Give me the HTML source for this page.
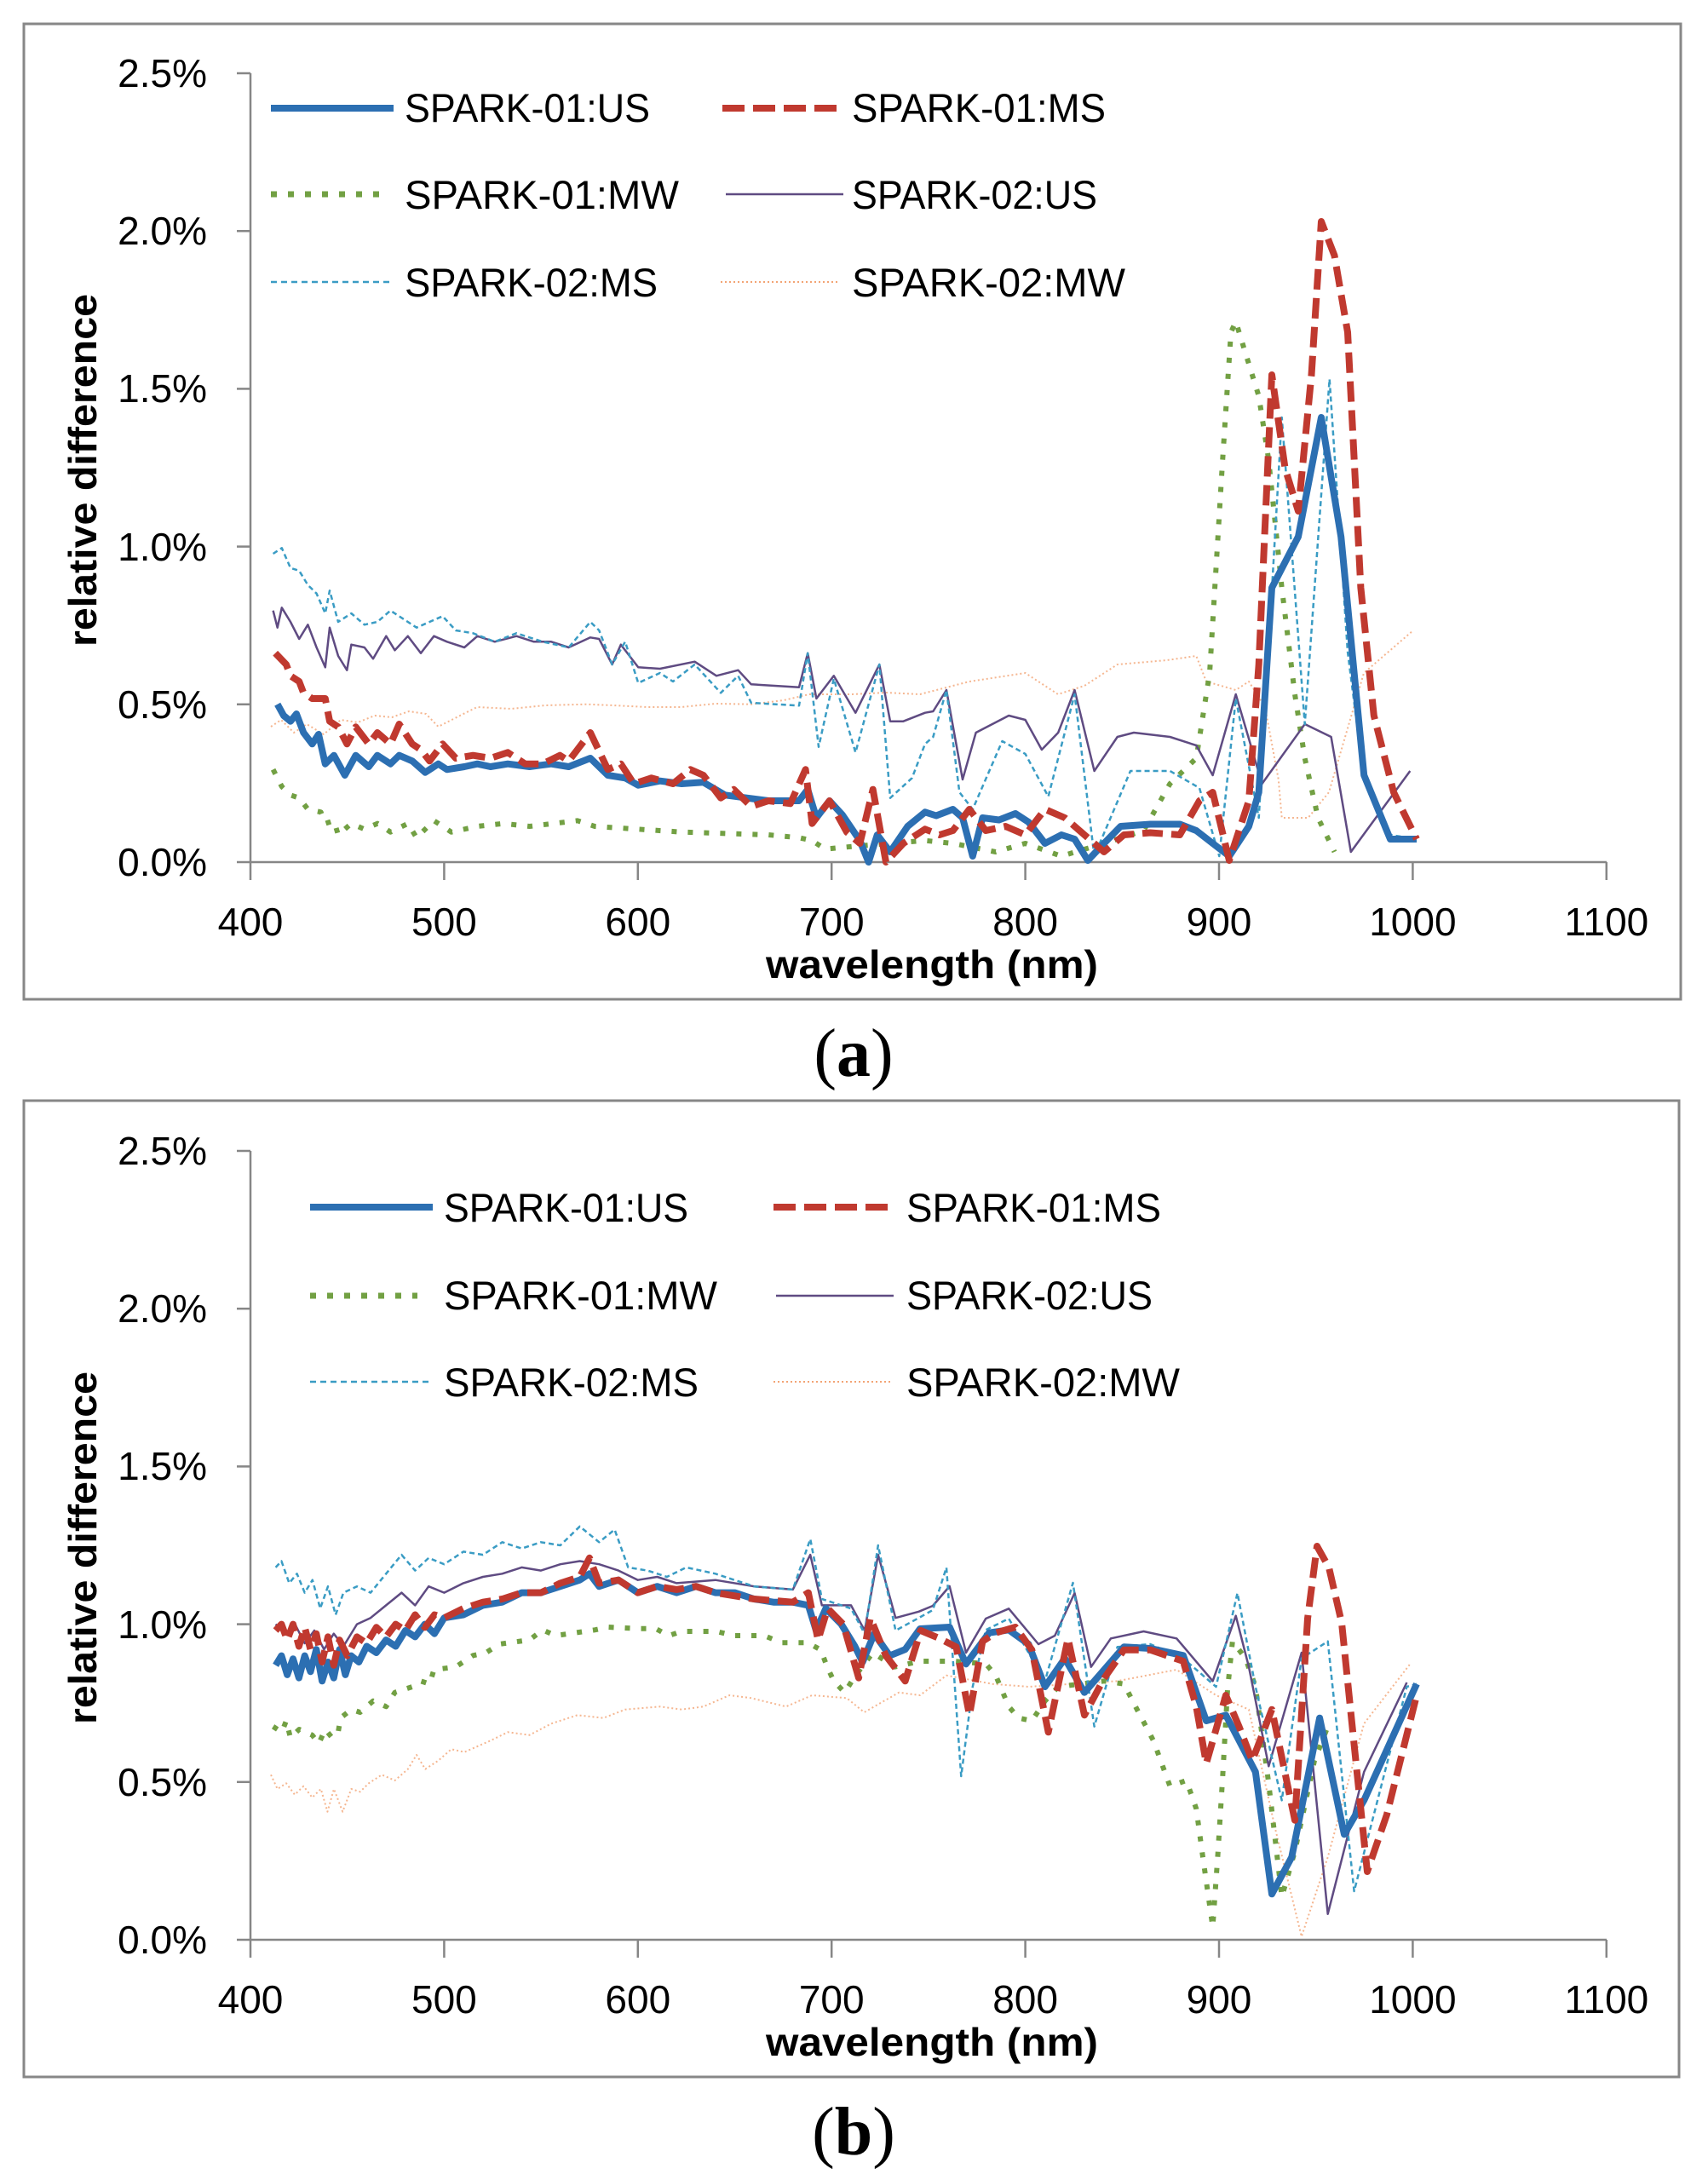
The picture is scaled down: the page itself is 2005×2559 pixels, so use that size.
<!DOCTYPE html>
<html><head><meta charset="utf-8"><style>
html,body{margin:0;padding:0;background:#fff;}
svg{display:block;}
text{font-family:"Liberation Sans",sans-serif;fill:#000;}
</style></head><body>
<svg width="2005" height="2559" viewBox="0 0 2005 2559" xmlns="http://www.w3.org/2000/svg">
<rect width="2005" height="2559" fill="#fff"/>
<defs>
<g id="axes">
  <line x1="294" y1="86" x2="294" y2="1033" stroke="#868686" stroke-width="2.5"/>
  <line x1="294" y1="1012" x2="1886" y2="1012" stroke="#868686" stroke-width="2.5"/>
  <g stroke="#868686" stroke-width="2.5">
    <line x1="278" y1="86" x2="294" y2="86"/><line x1="278" y1="271.2" x2="294" y2="271.2"/>
    <line x1="278" y1="456.4" x2="294" y2="456.4"/><line x1="278" y1="641.6" x2="294" y2="641.6"/>
    <line x1="278" y1="826.8" x2="294" y2="826.8"/><line x1="278" y1="1012" x2="294" y2="1012"/>
    <line x1="521.4" y1="1012" x2="521.4" y2="1033"/><line x1="748.8" y1="1012" x2="748.8" y2="1033"/>
    <line x1="976.2" y1="1012" x2="976.2" y2="1033"/><line x1="1203.6" y1="1012" x2="1203.6" y2="1033"/>
    <line x1="1431" y1="1012" x2="1431" y2="1033"/><line x1="1658.4" y1="1012" x2="1658.4" y2="1033"/>
    <line x1="1885.8" y1="1012" x2="1885.8" y2="1033"/>
  </g>
  <g font-size="46" text-anchor="end">
    <text x="243" y="102">2.5%</text><text x="243" y="287">2.0%</text>
    <text x="243" y="472">1.5%</text><text x="243" y="658">1.0%</text>
    <text x="243" y="843">0.5%</text><text x="243" y="1028">0.0%</text>
  </g>
  <g font-size="46" text-anchor="middle">
    <text x="294" y="1098">400</text><text x="521.4" y="1098">500</text>
    <text x="748.8" y="1098">600</text><text x="976.2" y="1098">700</text>
    <text x="1203.6" y="1098">800</text><text x="1431" y="1098">900</text>
    <text x="1658.4" y="1098">1000</text><text x="1885.8" y="1098">1100</text>
  </g>
  <text transform="translate(113,552) rotate(-90)" text-anchor="middle" font-weight="bold" font-size="46" textLength="414" lengthAdjust="spacingAndGlyphs">relative difference</text>
  <text x="1094" y="1148" text-anchor="middle" font-weight="bold" font-size="46" textLength="390" lengthAdjust="spacingAndGlyphs">wavelength (nm)</text>
</g>
</defs>

<!-- ================= CHART A ================= -->
<rect x="28" y="28" width="1945" height="1145" fill="none" stroke="#878787" stroke-width="3"/>
<use href="#axes"/>

<g fill="none" stroke-linejoin="round">
<polyline stroke="#F3A474" stroke-width="2" stroke-dasharray="2 3" opacity="0.8" points="318,853 330,845 345,860 360,850 380,862 400,845 420,848 440,840 460,842 480,835 500,838 514.5,853 540,840 560,830 600,832 640,828 688,826.7 720,828 760,830 800,830 840,826 881.8,826.7 920,822 950,815 1000,815 1040,813 1080,815 1138,800 1203.6,790 1242,815 1273,805 1311.7,780 1369.6,775 1404.3,770 1416,800 1450.7,810 1466,800 1485,830 1500.8,915 1504.7,960 1535.6,960 1560,930 1601,790 1659,740"/>
<polyline stroke="#72A043" stroke-width="6" stroke-dasharray="6 13" points="320.6,903.3 330.8,923.3 341,933.3 351.2,936.7 361.4,950 376.7,953.3 381.8,966.7 392,963.3 397,980 412.4,966.7 427.8,973.3 443,966.7 458.4,976.7 478.8,966.7 489,983.3 509.4,963.3 529.8,976.7 560.4,970 591,966.7 621.6,970 677.8,963.3 698.2,970 800.2,976.7 902.2,980 938,983.3 953.3,986.7 968.6,996.7 1004.3,993.3 1085.9,986.7 1118.6,990 1168.8,1000 1203.6,990 1246,1005 1296,990 1342.5,975 1373.4,920 1404.3,890 1420,790 1435.2,540 1445,390 1450.7,377.5 1462.2,415 1477.7,465 1489.3,540 1504.7,690 1520,815 1531.7,890 1547.2,960 1566.5,1000"/>
<polyline stroke="#5F4B82" stroke-width="2.5" points="320.6,716.7 325.7,736.7 330.8,713.3 341,730 351.2,750 361.4,733.3 371.6,760 381.8,783.3 387,736.7 397,770 407.3,786.7 412.4,756.7 427.8,760 438,773.3 453.3,746.7 463.5,763.3 478.8,746.7 494,766.7 509.4,746.7 524.7,753.3 545.1,760 560.4,746.7 580.8,753.3 606.3,746.7 626.7,753.3 647.1,753.3 667.6,760 693,748.3 703.3,750 718.6,780 728.8,756.7 749.2,783.3 774.7,785 815.5,776.7 841,793.3 866.5,786.7 881.8,803.3 938,806.7 948.2,766.7 958.4,820 978.8,793.3 1004.3,836.7 1032.3,780 1045,846.7 1060.4,846.7 1085.9,836.7 1095.4,835 1111,810 1130,915 1145.6,860 1184.2,840 1203.6,845 1222.9,880 1242.2,860 1261.5,810 1284.6,905 1311.7,865 1331,860 1373.4,865 1404.3,875 1423.6,910 1450.7,815 1481.5,920 1531.7,850 1562.6,865 1585.8,1000 1655.3,905"/>
<polyline stroke="#3A9CC4" stroke-width="2.5" stroke-dasharray="6 4" points="320.6,650 330.8,643.3 341,666.7 351.2,670 361.4,686.7 371.6,696.7 381.8,720 387,693.3 397,730 412.4,720 427.8,733.3 443,730 458.4,716.7 473.7,726.7 489,736.7 504.3,730 519.6,723.3 535,740 555.3,743.3 580.8,753.3 606.3,743.3 637,753.3 667.6,760 693,730 703.3,740 718.6,780 733.9,753.3 749.2,801.7 774.7,790 790,800 815.5,780 846.1,813.3 866.5,793.3 881.8,825 938,828.3 948.2,766.7 961,876.7 978.8,796.7 1004.3,883.3 1032.3,780 1045,936.7 1070.6,913.3 1085.9,873.3 1095.4,865 1111,810 1126.3,930 1141.8,950 1176.5,870 1203.6,885 1230.6,935 1261.5,815 1284.6,1005 1327,905 1373.4,905 1408,925 1431.3,1005 1450.7,820 1477.7,960 1504.7,490 1531.7,850 1560.7,445 1582,765 1601.2,915 1632,980 1663,985"/>
<polyline stroke="#2C6FB2" stroke-width="8" points="325.7,826.7 333,840 341,846.7 348,838 356.3,860 366.5,873.3 374,862 381.8,896.7 392,886.7 404.8,910 417.6,886.7 432.9,900 443,886.7 458.4,896.7 468.6,886.7 483.9,893.3 499.2,906.7 514.5,896.7 524.7,903.3 545.1,900 560.4,896.7 575.7,900 596.1,896.7 621.6,900 647.1,896.7 667.6,900 693,890 713.5,910 733.9,913.3 749.2,921.7 774.7,916.7 800.2,920 825.7,918.3 851.2,933.3 876.7,936.7 902.2,940 938,940 948.2,926.7 958.4,960 973.7,940 989,956.7 1009.4,986.7 1019.6,1012 1029.8,980 1045,1000 1065.5,970 1085.9,953.3 1099,957.5 1118.6,950 1130,960 1141.8,1005 1153.4,960 1172.7,962.5 1192,955 1207.4,965 1226.7,990 1246,980 1261.5,985 1277,1010 1296,990 1315.5,970 1350.3,967.5 1385,967.5 1404.3,975 1423.6,990 1443,1005 1466,970 1477.7,930 1493,690 1524,630 1551,490 1574.2,630 1601.2,910 1632,985 1663,985"/>
<polyline stroke="#C0392F" stroke-width="8" stroke-dasharray="24 10" points="323.2,766.7 336,780 341,793.3 351.2,800 356.3,813.3 366.5,820 381.8,820 387,846.7 397,853.3 407.3,873.3 417.6,853.3 432.9,873.3 443,860 458.4,873.3 468.6,850 483.9,873.3 494,880 504.3,893.3 519.6,873.3 535,890 555.3,886.7 575.7,890 596.1,883.3 616.5,896.7 637,896.7 657.3,886.7 667.6,893.3 677.8,880 693,860 713.5,903.3 728.8,896.7 744.1,920 764.5,913.3 790,920 810.4,903.3 825.7,910 846.1,936.7 861.4,926.7 881.8,946.7 902.2,940 927.8,943.3 945.6,903.3 953.3,966.7 973.7,940 994,976.7 1009.4,990 1024.7,926.7 1040,1012 1060.4,990 1085.9,973.3 1103,980 1118.6,975 1138,950 1157.2,975 1180.4,970 1203.6,980 1226.7,950 1250,960 1273,980 1296,1000 1319.4,980 1350.3,977.5 1385,980 1408,940 1423.6,930 1443,1010 1466,940 1477.7,780 1493,440 1508.6,550 1524,600 1539.5,440 1551,260 1566.5,300 1582,390 1597.4,690 1612.8,840 1636,930 1663,985"/>
</g>

<!-- legend A -->
<g fill="none">
<line x1="318" y1="127" x2="462" y2="127" stroke="#2C6FB2" stroke-width="8"/>
<line x1="848" y1="127" x2="992" y2="127" stroke="#C0392F" stroke-width="8" stroke-dasharray="26 10"/>
<line x1="318" y1="228" x2="446" y2="228" stroke="#72A043" stroke-width="7" stroke-dasharray="7 13"/>
<line x1="852" y1="228" x2="990" y2="228" stroke="#5F4B82" stroke-width="2.5"/>
<line x1="318" y1="331" x2="462" y2="331" stroke="#3A9CC4" stroke-width="2.5" stroke-dasharray="7 5"/>
<line x1="846" y1="331" x2="986" y2="331" stroke="#F3A474" stroke-width="2" stroke-dasharray="2 3"/>
</g>
<g font-size="47">
<text x="475" y="143" textLength="288" lengthAdjust="spacingAndGlyphs">SPARK-01:US</text>
<text x="1000" y="143" textLength="298" lengthAdjust="spacingAndGlyphs">SPARK-01:MS</text>
<text x="475" y="245" textLength="322" lengthAdjust="spacingAndGlyphs">SPARK-01:MW</text>
<text x="1000" y="245" textLength="288" lengthAdjust="spacingAndGlyphs">SPARK-02:US</text>
<text x="475" y="348" textLength="297" lengthAdjust="spacingAndGlyphs">SPARK-02:MS</text>
<text x="1000" y="348" textLength="321" lengthAdjust="spacingAndGlyphs">SPARK-02:MW</text>
</g>

<text x="1002" y="1263" text-anchor="middle" font-size="80" style="font-family:'Liberation Serif',serif">(<tspan font-weight="bold">a</tspan>)</text>

<!-- ================= CHART B ================= -->
<rect x="28" y="1292" width="1943" height="1146" fill="none" stroke="#878787" stroke-width="3"/>
<use href="#axes" transform="translate(0,1265)"/>

<g fill="none" stroke-linejoin="round">
<polyline stroke="#F3A474" stroke-width="2" stroke-dasharray="2 3" opacity="0.8" points="318,2083.3 325.7,2100 336,2093.3 346,2106.7 356.3,2096.7 366.5,2110 376.7,2100 384.4,2126.7 392,2100 402.2,2126.7 412.4,2100 422.7,2103.3 432.9,2093.3 448.2,2083.3 463.5,2090 478.8,2076.7 489,2060 499.2,2076.7 514.5,2066.7 529.8,2053.3 545.1,2056.7 575.7,2043.3 596.1,2033.3 621.6,2036.7 647.1,2023.3 677.8,2013.3 708.4,2016.7 733.9,2006.7 774.7,2003.3 800.2,2006.7 825.7,2003.3 856.3,1990 881.8,1993.3 922.7,2003.3 953.3,1990 994,1993.3 1014.5,2010 1055.3,1986.7 1080,1990 1111,1966.7 1165,1976.7 1207.4,1980 1311.7,1973.3 1381.2,1960 1427.5,1990 1466,2006.7 1497,2146.7 1527.9,2273.3 1558.7,2180 1601.2,2023.3 1655.3,1953.3"/>
<polyline stroke="#72A043" stroke-width="6" stroke-dasharray="6 13" points="320.6,2026.7 330.8,2033.3 336,2020 341,2040 351.2,2030 366.5,2036.7 374.2,2046.7 381.8,2030 390,2040 397,2033.3 399.7,2016.7 412.4,2006.7 422.7,2010 438,1996.7 453.3,2003.3 463.5,1986.7 483.9,1980 494,1973.3 504.3,1976.7 509.4,1960 535,1956.7 555.3,1943.3 570.6,1940 586,1930 621.6,1925 637,1913.3 652.2,1920 698.2,1913.3 713.5,1910 749.2,1911.7 769.6,1911.7 785,1920 800.2,1915 841,1915 861.4,1920 897.1,1920 917.6,1928.3 948.2,1928.3 963.5,1936.7 971,1956.7 978.8,1973.3 991.5,1986.7 1004.3,1966.7 1024.7,1940 1050.2,1956.7 1080,1950 1118.6,1950 1157.2,1953 1168.8,1966.7 1184.2,2003.3 1195.8,2016.7 1211.3,2020 1226.7,1996.7 1242.2,1980 1296.2,1973.3 1319.4,1976.7 1334.8,2006.7 1354,2043.3 1373.4,2096.7 1392.7,2090 1404.3,2123.3 1412,2180 1423.6,2262 1429.4,2180 1435.2,2086.7 1441,1983.3 1446.8,1926.7 1462.2,1946.7 1473.8,1980 1489.3,2093.3 1504.7,2226.7 1520,2173.3 1543,2066.7 1558.7,2026.7"/>
<polyline stroke="#5F4B82" stroke-width="2.5" points="323.6,1906.6 335,1917.7 346.3,1906.6 357.7,1929 369,1914 380.4,1936.2 391.8,1917.7 403.2,1932.5 419,1906.6 435,1899.2 453.2,1884.4 471.4,1869.6 487.3,1884.4 503.2,1862.2 521.4,1869.6 544,1858.4 566.9,1851 589.6,1847.3 612.4,1839.9 635,1843.6 657.8,1836.2 680.6,1832.5 703.3,1836.2 726,1843.6 748.8,1854.7 771.5,1851 794.3,1858.4 839.8,1854.7 885.2,1862.2 930.7,1865.9 951.2,1825.1 964.8,1884.4 999,1884.4 1015,1914 1030.8,1825.1 1051.3,1899.2 1078.5,1891.8 1095,1885 1114.7,1862 1134,1940 1157.2,1900 1184.2,1888.3 1219,1930 1238.3,1920 1261.5,1870 1280.8,1956.7 1304,1923.3 1342.5,1915 1381.2,1923.3 1423.6,1973.3 1450.7,1896.7 1466,1956.7 1489.3,2073.3 1527.9,1940 1558.7,2246.7 1601.2,2080 1651.4,1975"/>
<polyline stroke="#3A9CC4" stroke-width="2.5" stroke-dasharray="6 4" points="323.6,1839.9 330.4,1832.5 339.5,1858.4 348.6,1847.3 357.7,1869.6 366.8,1854.7 375.9,1888.1 385,1862.2 394,1895.5 403.2,1869.6 419,1862.2 435,1869.6 453.2,1847.3 471.4,1825.1 487.3,1843.6 503.2,1828.8 521.4,1836.2 544,1821.4 566.9,1825.1 589.6,1810.3 612.4,1817.7 635,1810.3 657.8,1814 680.6,1791.8 703.3,1810.3 721.5,1795.5 737.4,1839.9 760.1,1843.6 782.9,1851 805.6,1839.9 839.8,1847.3 885.2,1862.2 930.7,1865.9 951.2,1806.6 964.8,1877 999,1888.1 1015,1917.7 1030.8,1814 1051.3,1914 1078.5,1899.2 1095,1890 1111,1840 1128.3,2085 1141.8,1980 1157.2,1913.3 1184.2,1900 1226.7,1973.3 1259.5,1858 1284.6,2026.7 1311.7,1933.3 1350.3,1930 1389,1946.7 1427.5,1980 1452.6,1870 1473.8,1980 1504.7,2113.3 1527.9,1946.7 1558.7,1926.7 1589.6,2220 1651.4,1980 1663,1976.7"/>
<polyline stroke="#2C6FB2" stroke-width="8" points="323.6,1954.8 330.4,1943.6 337.2,1965.9 344,1947.3 350.9,1969.6 357.7,1943.6 364.5,1962.2 371.3,1936.2 378.1,1973.3 385,1951 391.8,1969.6 398.6,1936.2 405.4,1965.9 412.2,1943.6 421.3,1951 430.4,1932.5 441.8,1940 453.2,1925.1 464.5,1932.5 475.9,1914 487.3,1921.4 498.7,1906.6 510,1917.7 521.4,1899.2 544,1895.5 566.9,1884.4 589.6,1880.7 612.4,1869.6 635,1869.6 657.8,1862.2 680.6,1854.7 692,1847.3 703.3,1862.2 726,1854.7 748.8,1869.6 771.5,1862.2 794.3,1869.6 817,1862.2 839.8,1869.6 862.5,1869.6 885.2,1877 908,1880.7 930.7,1880.7 948.9,1884.4 958,1914 969.4,1888.1 987.6,1906.6 1003.5,1932.5 1012.6,1951 1026.2,1917.7 1044.4,1943.6 1062.6,1936.2 1080,1912 1114.7,1910 1134,1953.3 1161,1916.7 1184.2,1913.3 1207.4,1930 1226.7,1980 1250,1946.7 1273,1986.7 1296.2,1960 1319.4,1933.3 1350.3,1935 1389,1943.3 1416,2020 1439,2013.3 1473.8,2080 1493,2223.3 1516.3,2180 1549.1,2016.7 1578,2153.3 1601.2,2113.3 1663,1976.7"/>
<polyline stroke="#C0392F" stroke-width="8" stroke-dasharray="24 10" points="323.6,1914 330.4,1906.6 337.2,1925.1 344,1906.6 350.9,1932.5 357.7,1910.3 364.5,1936.2 371.3,1917.7 378.1,1951 385,1921.4 391.8,1954.8 398.6,1925.1 407.7,1943.6 419,1921.4 430.4,1929 441.8,1910.3 453.2,1921.4 464.5,1906.6 475.9,1914 487.3,1895.5 498.7,1910.3 510,1895.5 521.4,1899.2 544,1888.1 566.9,1880.7 589.6,1877 612.4,1869.6 635,1869.6 657.8,1858.4 680.6,1851 692,1828.8 703.3,1858.4 726,1854.7 748.8,1869.6 771.5,1862.2 794.3,1865.9 817,1862.2 839.8,1869.6 885.2,1877 930.7,1880.7 948.9,1869.6 960.3,1925.1 971.6,1888.1 989.8,1906.6 1008,1969.6 1021.7,1899.2 1039.9,1943.6 1062.6,1973.3 1080.8,1914 1103,1923.3 1122.5,1933.3 1138,2013.3 1153.4,1926.7 1168.8,1916.7 1192,1910 1211.3,1936.7 1230.6,2033.3 1253.7,1923.3 1273,2013.3 1296.2,1970 1319.4,1936.7 1350.3,1936.7 1389,1950 1404.3,2003.3 1416,2070 1439,1990 1454.5,2026.7 1470,2066.7 1493,2006.7 1520,2136.7 1535,1900 1546,1815 1560,1840 1575,1905 1586,2013 1605,2197 1628,2130 1663,1990"/>
</g>

<!-- legend B -->
<g fill="none">
<line x1="364" y1="1417" x2="508" y2="1417" stroke="#2C6FB2" stroke-width="8"/>
<line x1="908" y1="1417" x2="1052" y2="1417" stroke="#C0392F" stroke-width="8" stroke-dasharray="26 10"/>
<line x1="364" y1="1521" x2="490" y2="1521" stroke="#72A043" stroke-width="7" stroke-dasharray="7 13"/>
<line x1="911" y1="1521" x2="1049" y2="1521" stroke="#5F4B82" stroke-width="2.5"/>
<line x1="364" y1="1622" x2="506" y2="1622" stroke="#3A9CC4" stroke-width="2.5" stroke-dasharray="7 5"/>
<line x1="908" y1="1622" x2="1046" y2="1622" stroke="#F3A474" stroke-width="2" stroke-dasharray="2 3"/>
</g>
<g font-size="47">
<text x="521" y="1434" textLength="287" lengthAdjust="spacingAndGlyphs">SPARK-01:US</text>
<text x="1064" y="1434" textLength="299" lengthAdjust="spacingAndGlyphs">SPARK-01:MS</text>
<text x="521" y="1537" textLength="321" lengthAdjust="spacingAndGlyphs">SPARK-01:MW</text>
<text x="1064" y="1537" textLength="289" lengthAdjust="spacingAndGlyphs">SPARK-02:US</text>
<text x="521" y="1639" textLength="299" lengthAdjust="spacingAndGlyphs">SPARK-02:MS</text>
<text x="1064" y="1639" textLength="321" lengthAdjust="spacingAndGlyphs">SPARK-02:MW</text>
</g>

<text x="1002" y="2529" text-anchor="middle" font-size="80" style="font-family:'Liberation Serif',serif">(<tspan font-weight="bold">b</tspan>)</text>
</svg>
</body></html>
